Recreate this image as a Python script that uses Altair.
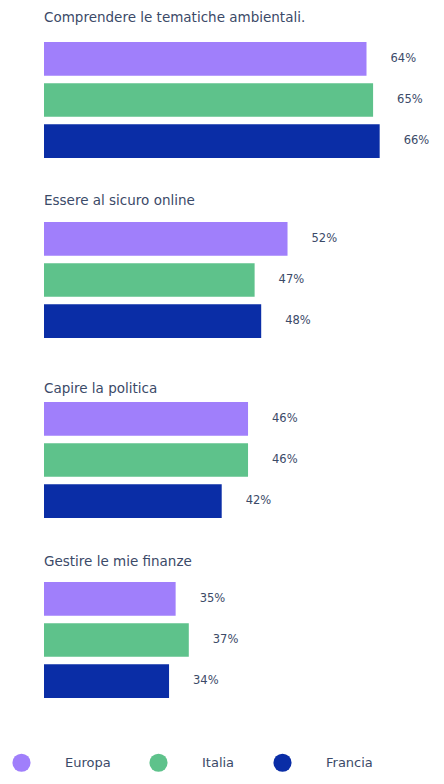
import altair as alt
import pandas as pd

groups = [
    "Comprendere le tematiche ambientali.",
    "Essere al sicuro online",
    "Capire la politica",
    "Gestire le mie finanze",
]
countries = ["Europa", "Italia", "Francia"]
colors = ["#a07ffb", "#5ec28b", "#0a2da6"]
europa = [64, 52, 46, 35]
italia = [65, 47, 46, 37]
francia = [66, 48, 42, 34]
title_offsets = [18, 15, 7, 14]
x_domain = [15, 70]

rows = []
for gi, g in enumerate(groups):
    for c, vals in zip(countries, [europa, italia, francia]):
        rows.append({"group": g, "country": c, "value": vals[gi],
                     "label": f"{vals[gi]}%"})
df = pd.DataFrame(rows)

FONT = "DejaVu Sans"
TXT = "#3b4a68"

xscale = alt.Scale(domain=x_domain, zero=False, nice=False, clamp=True)
yscale = alt.Scale(domain=countries, paddingInner=0.18, paddingOuter=0)
cscale = alt.Scale(domain=countries, range=colors)

charts = []
for gi, g in enumerate(groups):
    base = alt.Chart(df).transform_filter(alt.datum.group == g)
    bars = base.mark_bar().encode(
        x=alt.X("value:Q", scale=xscale, axis=None),
        x2=alt.datum(x_domain[0]),
        y=alt.Y("country:N", scale=yscale, axis=None),
        color=alt.Color(
            "country:N", scale=cscale, sort=countries,
            legend=alt.Legend(
                title=None, orient="none", direction="horizontal",
                legendX=-32, legendY=711, symbolType="circle",
                symbolSize=330, symbolStrokeWidth=0, labelOffset=34,
                columnPadding=38, labelFontSize=13, labelColor=TXT,
                labelFont=FONT,
            ) if gi == 0 else None,
        ),
    )
    text = base.mark_text(align="left", baseline="middle", dx=24,
                          fontSize=11.5, font=FONT, color=TXT).encode(
        x=alt.X("value:Q", scale=xscale),
        y=alt.Y("country:N", scale=yscale),
        text="label:N",
    )
    ch = alt.layer(bars, text).properties(
        width=362, height=116,
        title=alt.TitleParams(text=g, anchor="start", frame="group",
                              offset=title_offsets[gi],
                              fontSize=13.5, font=FONT, color=TXT,
                              fontWeight="normal"),
    )
    charts.append(ch)

chart = alt.vconcat(*charts, spacing=64, bounds="flush").resolve_scale(
    color="shared"
).properties(padding={"left": 4, "top": 2, "right": 4, "bottom": 4}).configure_view(
    stroke=None
)

chart.save("out.html", embed_options={"renderer": "svg", "actions": False})
